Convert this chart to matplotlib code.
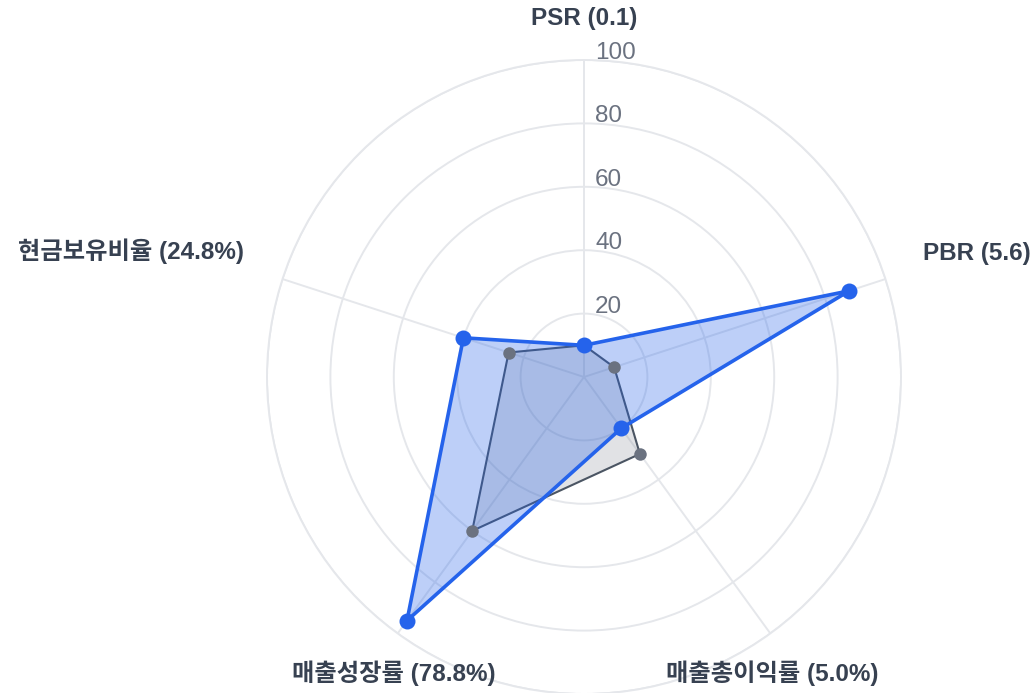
import numpy as np
import matplotlib
matplotlib.use("Agg")
import matplotlib.pyplot as plt

plt.rcParams['font.family'] = ['Liberation Sans', 'Noto Sans CJK KR', 'DejaVu Sans']

categories = ["PSR (0.1)", "PBR (5.6)", "매출총이익률 (5.0%)", "매출성장률 (78.8%)", "현금보유비율 (24.8%)"]
company_values = [10, 88, 20, 95, 40]
peer_values = [10, 10, 30, 60, 25]
r_ticks = [20, 40, 60, 80, 100]

W, H = 1035, 693
fig = plt.figure(figsize=(W / 100, H / 100), dpi=100)
cx, cy, R = 584, 316, 317
ax = fig.add_axes([(cx - R) / W, (cy - R) / H, 2 * R / W, 2 * R / H], projection='polar')
ax.set_theta_zero_location('N')
ax.set_theta_direction(-1)

n = len(categories)
theta = np.linspace(0, 2 * np.pi, n, endpoint=False)
ax.set_ylim(0, 100)
ax.set_xticks(theta)
ax.set_xticklabels([])
ax.set_yticks(r_ticks)
ax.set_yticklabels([])
ax.tick_params(length=0)
ax.grid(True, color='#e5e7eb', linewidth=1.4)
ax.spines['polar'].set_color('#e5e7eb')
ax.spines['polar'].set_linewidth(1.4)
ax.set_facecolor('none')

def closed(v):
    return np.concatenate([theta, theta[:1]]), np.concatenate([v, v[:1]])

# peer (gray)
t, v = closed(np.array(peer_values, dtype=float))
ax.fill(t, v, color='#6b7280', alpha=0.2, linewidth=0, zorder=2)
ax.plot(t, v, color='#4b5563', linewidth=1.5, zorder=3)
ax.plot(theta, peer_values, 'o', color='#6b7280', markersize=9, markeredgewidth=0, zorder=6.5, clip_on=False)

# company (blue)
t, v = closed(np.array(company_values, dtype=float))
ax.fill(t, v, color='#2563eb', alpha=0.3, linewidth=0, zorder=5)
ax.plot(t, v, color='#2563eb', linewidth=2.6, zorder=6, clip_on=False)
ax.plot(theta, company_values, 'o', color='#2563eb', markersize=11.5, markeredgewidth=0, zorder=7, clip_on=False)

# radial tick labels
for r in r_ticks:
    ax.annotate(str(r), xy=(0, r), xytext=(11, 1), textcoords='offset pixels',
                ha='left', va='baseline', fontsize=17.5, color='#6b7280', zorder=8,
                annotation_clip=False)

# category labels
offsets = [(0, 41, 'center'), (37.5, 26, 'left'), (2, -39.5, 'center'), (-4, -39.5, 'center'), (-38.5, 28, 'right')]
for th, lab, (dx, dy, ha) in zip(theta, categories, offsets):
    ax.annotate(lab, xy=(th, 100), xytext=(dx, dy), textcoords='offset pixels',
                ha=ha, va='center', fontsize=17.5, fontweight='bold', color='#374151',
                annotation_clip=False)

fig.savefig('out.png', dpi=100)
